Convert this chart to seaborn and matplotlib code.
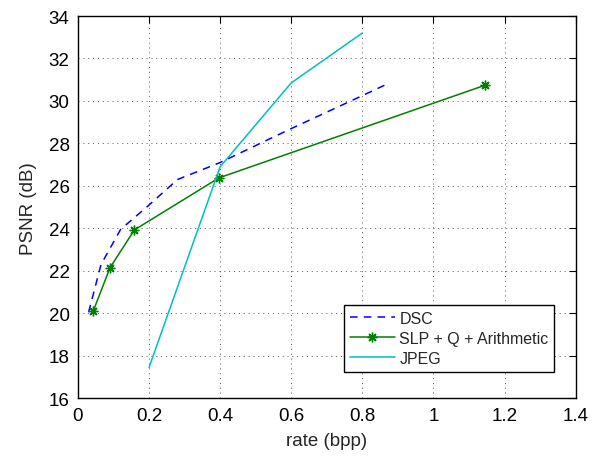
import matplotlib
matplotlib.use("Agg")
import matplotlib.pyplot as plt
import seaborn as sns

# data
dsc_rate = [0.03, 0.065, 0.12, 0.2, 0.28, 0.4, 0.6, 0.8, 0.87]
dsc_psnr = [20.05, 22.3, 23.95, 25.1, 26.3, 27.1, 28.7, 30.25, 30.8]

slp_rate = [0.043, 0.09, 0.159, 0.397, 1.145]
slp_psnr = [20.1, 22.14, 23.93, 26.38, 30.74]

jpeg_rate = [0.2, 0.4, 0.6, 0.8]
jpeg_psnr = [17.45, 26.9, 30.85, 33.2]

x_ticks = [0, 0.2, 0.4, 0.6, 0.8, 1, 1.2, 1.4]
x_tick_labels = ["0", "0.2", "0.4", "0.6", "0.8", "1", "1.2", "1.4"]
y_ticks = list(range(16, 35, 2))

sns.set_style("white")
plt.rcParams["font.family"] = ["Liberation Sans", "DejaVu Sans"]

fig = plt.figure(figsize=(6.04, 4.6), dpi=100)
ax = fig.add_axes([0.129, 0.132, 0.824, 0.831])

green = (0, 0.5, 0)
sns.lineplot(x=dsc_rate, y=dsc_psnr, ax=ax, color=(0, 0, 1), lw=1.1,
             linestyle=(0, (5, 4)), label="DSC", sort=False)
sns.lineplot(x=slp_rate, y=slp_psnr, ax=ax, color=green, lw=1.1,
             marker=(8, 2, 0), markersize=7, markeredgewidth=1.0,
             markeredgecolor=green, label="SLP + Q + Arithmetic", sort=False)
sns.lineplot(x=jpeg_rate, y=jpeg_psnr, ax=ax, color=(0, 0.75, 0.75), lw=1.1,
             label="JPEG", sort=False)

ax.set_xlim(0, 1.4)
ax.set_ylim(16, 34)
ax.set_xticks(x_ticks)
ax.set_xticklabels(x_tick_labels)
ax.set_yticks(y_ticks)
ax.grid(True, linestyle=(0, (1, 4)), color="0.35", lw=0.7)
ax.tick_params(direction="in", length=5, width=0.8, top=True, right=True,
               labelsize=13.5, colors="black", pad=6)
for s in ax.spines.values():
    s.set_color("black")
    s.set_linewidth(1.0)

ax.set_xlabel("rate (bpp)", fontsize=13.5, labelpad=6)
ax.set_ylabel("PSNR (dB)", fontsize=13.5, labelpad=8)

leg = ax.legend(loc="lower right", bbox_to_anchor=(0.957, 0.07),
                borderaxespad=0, fontsize=11.5, frameon=True, fancybox=False,
                handlelength=2.8, handletextpad=0.3, labelspacing=0.32,
                borderpad=0.35)
leg.get_frame().set_edgecolor("black")
leg.get_frame().set_linewidth(1.0)
leg.get_frame().set_alpha(1)

fig.savefig("out.png", dpi=100)
